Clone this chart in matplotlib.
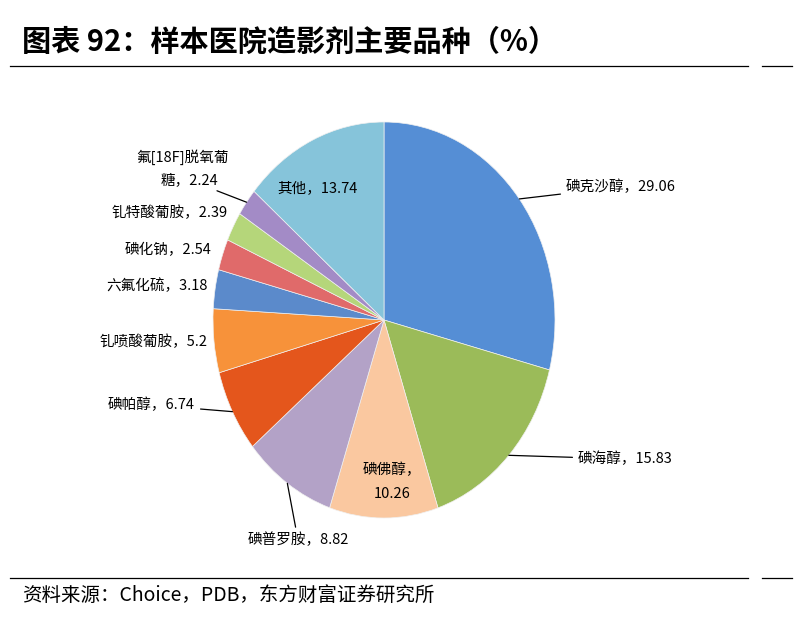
import matplotlib
matplotlib.use('Agg')
import matplotlib.pyplot as plt
import numpy as np
from matplotlib.lines import Line2D

plt.rcParams['font.family'] = ['Noto Sans CJK SC', 'DejaVu Sans']

names = ['碘克沙醇', '碘海醇', '碘佛醇', '碘普罗胺', '碘帕醇', '钆喷酸葡胺',
         '六氟化硫', '碘化钠', '钆特酸葡胺', '氟[18F]脱氧葡糖', '其他']
values = [29.06, 15.83, 10.26, 8.82, 6.74, 5.2, 3.18, 2.54, 2.39, 2.24, 13.74]
colors = ['#558ED5', '#9BBB59', '#FAC8A0', '#B3A2C7', '#E4561C', '#F7923A',
          '#5B8ACB', '#E06A6A', '#B5D67A', '#A38BC6', '#86C4DA']

W, H = 796, 621
fig = plt.figure(figsize=(7.96, 6.21), dpi=100)
cx, cy, rx, ry = 384, 320, 171, 198
ax = fig.add_axes([(cx-rx)/W, (H-cy-ry)/H, 2*rx/W, 2*ry/H])
wedges, _ = ax.pie(values, colors=colors, startangle=90, counterclock=False, radius=1,
                   wedgeprops=dict(linewidth=0.5, edgecolor='#f0f0f0'))
ax.set_aspect('auto')
ax.set_xlim(-1, 1); ax.set_ylim(-1, 1)
ax.axis('off')

def fp(x, y):
    return (x, H - y)

fs = 10.5
specs = [
    (f'{names[0]}，{values[0]}', (566, 187), 'left', True),
    (f'{names[1]}，{values[1]}', (578, 459), 'left', True),
    (None, None, None, False),
    (f'{names[3]}，{values[3]}', (298, 540), 'center', True),
    (f'{names[4]}，{values[4]}', (195, 405), 'right', True),
    (f'{names[5]}，{values[5]}', (208, 342), 'right', False),
    (f'{names[6]}，{values[6]}', (208, 286), 'right', False),
    (f'{names[7]}，{values[7]}', (212, 250), 'right', False),
    (f'{names[8]}，{values[8]}', (228, 213), 'right', False),
    (None, None, None, False),
    (None, None, None, False),
]
for w, (t, pos, ha, line) in zip(wedges, specs):
    if t is None:
        continue
    th = np.deg2rad((w.theta1 + w.theta2) / 2)
    xy = (np.cos(th), np.sin(th))
    ax.annotate(t, xy=xy, xycoords='data', xytext=fp(*pos), textcoords='figure pixels',
                ha=ha, va='center', fontsize=fs,
                arrowprops=dict(arrowstyle='-', color='black', lw=0.9,
                                shrinkA=2, shrinkB=0) if line else None)

w = wedges[9]
th = np.deg2rad((w.theta1 + w.theta2) / 2)
ax.annotate(f'糖，{values[9]}', xy=(np.cos(th), np.sin(th)), xycoords='data',
            xytext=fp(218, 180), textcoords='figure pixels', ha='right', va='center', fontsize=fs,
            arrowprops=dict(arrowstyle='-', color='black', lw=0.9, shrinkA=2, shrinkB=0))
fig.text(182/W, (H-157)/H, '氟[18F]脱氧葡', ha='center', va='center', fontsize=fs)
fig.text(392/W, (H-470)/H, f'{names[2]}，', ha='center', va='center', fontsize=fs)
fig.text(392/W, (H-494)/H, f'{values[2]}', ha='center', va='center', fontsize=fs)
fig.text(318/W, (H-188)/H, f'{names[10]}，{values[10]}', ha='center', va='center', fontsize=fs)

fig.text(22/W, (H-42)/H, '图表 92：样本医院造影剂主要品种（%）', fontsize=21,
         fontweight='bold', va='center', ha='left')
for y in (66, 578):
    fig.add_artist(Line2D([10/W, 748/W], [(H-y)/H]*2, color='black', lw=0.9))
    fig.add_artist(Line2D([762/W, 792/W], [(H-y)/H]*2, color='black', lw=0.9))
fig.text(22/W, (H-595)/H, '资料来源：Choice，PDB，东方财富证券研究所', fontsize=14,
         va='center', ha='left')

fig.savefig('out.png', dpi=100)
